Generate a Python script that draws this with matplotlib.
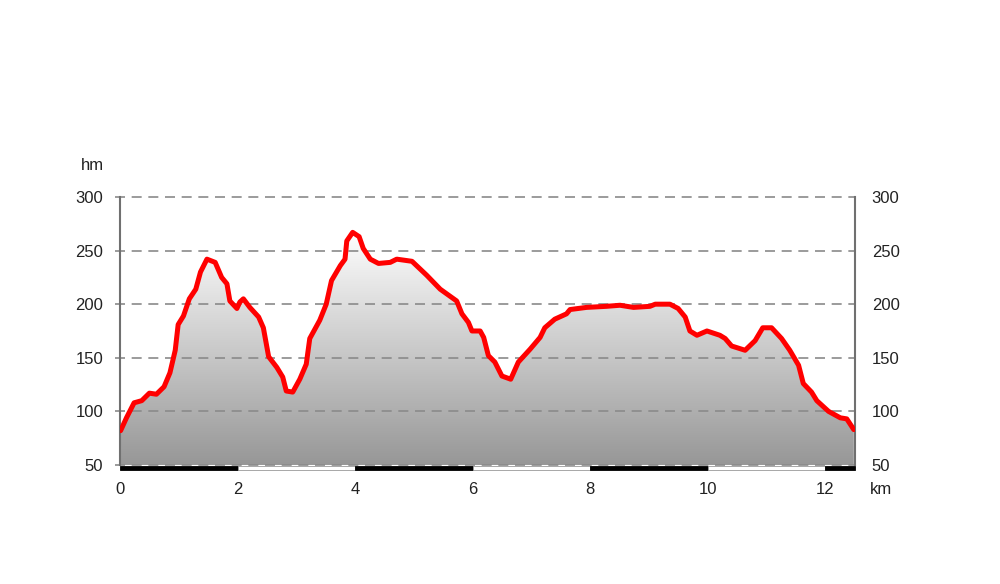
import numpy as np
import matplotlib.pyplot as plt
from matplotlib.patches import Rectangle
from matplotlib.colors import LinearSegmentedColormap
import matplotlib.transforms as mtransforms

plt.rcParams['font.family'] = ['Liberation Sans', 'DejaVu Sans']

# distance (km) and elevation (hm)
dist = [0.01, 0.11, 0.24, 0.37, 0.50, 0.62, 0.75, 0.85, 0.94, 0.99, 1.08, 1.18, 1.29,
        1.37, 1.48, 1.62, 1.73, 1.82, 1.87, 1.99, 2.04, 2.10, 2.21, 2.36, 2.44, 2.53,
        2.67, 2.77, 2.83, 2.94, 3.06, 3.17, 3.23, 3.40, 3.51, 3.60, 3.75, 3.83, 3.86,
        3.96, 4.07, 4.14, 4.26, 4.40, 4.60, 4.71, 4.97, 5.22, 5.45, 5.73, 5.82, 5.93,
        5.99, 6.13, 6.19, 6.27, 6.38, 6.50, 6.65, 6.78, 6.98, 7.15, 7.23, 7.40, 7.60,
        7.66, 7.94, 8.28, 8.51, 8.74, 9.02, 9.11, 9.36, 9.50, 9.62, 9.70, 9.82, 9.99,
        10.21, 10.30, 10.41, 10.64, 10.81, 10.94, 11.09, 11.26, 11.40, 11.55, 11.63,
        11.77, 11.86, 12.06, 12.26, 12.37, 12.49]
elev = [82, 94, 108, 110, 117, 116, 123, 136, 157, 181, 189, 205, 214,
        230, 242, 239, 225, 219, 203, 196, 202, 205, 197, 188, 178, 151,
        141, 132, 119, 118, 130, 144, 168, 185, 200, 222, 236, 242, 259,
        267, 263, 252, 242, 238, 239, 242, 240, 227, 214, 203, 191, 183,
        175, 175, 169, 152, 146, 133, 130, 146, 158, 169, 178, 186, 191,
        195, 197, 198, 199, 197, 198, 200, 200, 196, 188, 175, 171, 175,
        171, 168, 161, 157, 166, 178, 178, 168, 157, 143, 126,
        118, 110, 100, 94, 93, 83]

y_ticks = [50, 100, 150, 200, 250, 300]
x_ticks = [0, 2, 4, 6, 8, 10, 12]
x_max = 12.51

fig = plt.figure(figsize=(10, 5.84), dpi=100)
ax = fig.add_axes([0.12, 0.2038, 0.735, 0.4589])
ax.set_xlim(0, x_max)
ax.set_ylim(50, 300)

# gradient fill under the profile
cmap = LinearSegmentedColormap.from_list('g', ['#979797', '#ffffff'])
grad = np.linspace(0, 1, 256).reshape(-1, 1)
poly = ax.fill_between(dist, elev, 50, color='none', lw=0)
img = ax.imshow(grad, cmap=cmap, origin='lower', aspect='auto',
                extent=[0, x_max, 50, 270], zorder=1)
path = poly.get_paths()[0]
img.set_clip_path(path, transform=ax.transData)

for yv in y_ticks:
    ax.axhline(yv, xmin=-0.007, xmax=1.0, color='#8a8a8a', lw=1.2,
               ls=(0, (6, 4)), clip_on=False, zorder=2)

ax.plot(dist, elev, color='#ff0000', lw=3.6, solid_joinstyle='round',
        solid_capstyle='round', zorder=4)

# km scale bar
trans = mtransforms.blended_transform_factory(ax.transData, ax.transAxes)
for i, x0 in enumerate(range(0, 13, 2)):
    w = min(2, x_max - x0)
    fc = 'black' if i % 2 == 0 else 'white'
    ax.add_patch(Rectangle((x0, -0.018), w, 0.016, transform=trans, facecolor=fc,
                           edgecolor='#999999' if fc == 'white' else 'black',
                           lw=0.6, clip_on=False, zorder=5))

for s in ['top', 'bottom']:
    ax.spines[s].set_visible(False)
for s in ['left', 'right']:
    ax.spines[s].set_color('#707070')
    ax.spines[s].set_linewidth(1.5)

ax.set_yticks(y_ticks)
ax.set_xticks(x_ticks)
ax.tick_params(axis='y', length=0, pad=12, labelsize=12, labelright=True,
               right=False, labelcolor='#222222')
ax.tick_params(axis='x', length=0, pad=12, labelsize=12, labelcolor='#222222')

fig.text(0.092, 1 - 165 / 584, 'hm', ha='center', va='center', fontsize=12, color='#222222')
fig.text(0.881, 1 - 490 / 584, 'km', ha='center', va='center', fontsize=12, color='#222222')

fig.savefig('out.png', dpi=100)
